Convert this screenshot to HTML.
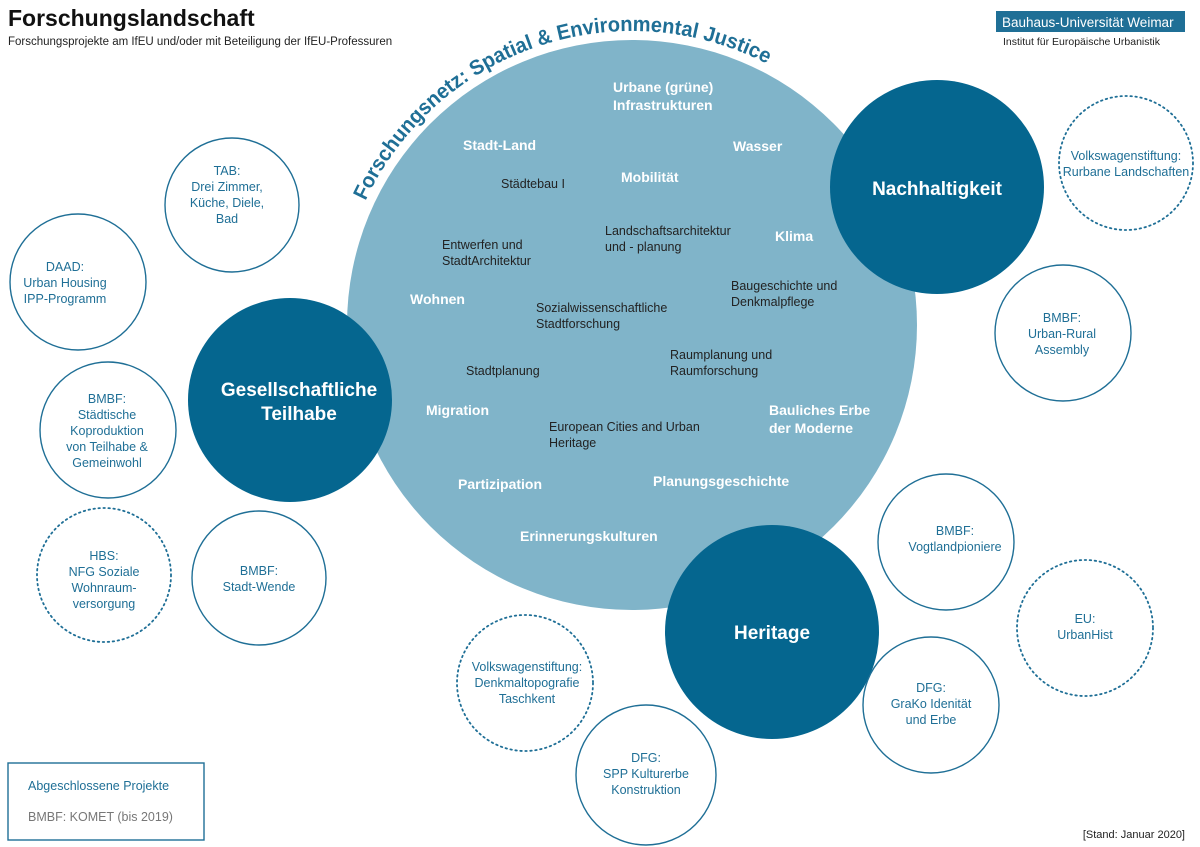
<!DOCTYPE html>
<html><head><meta charset="utf-8"><style>
body{margin:0;background:#fff;}
svg{display:block;font-family:"Liberation Sans",sans-serif;}
.w{fill:#fff;font-weight:bold;font-size:14px;}
.k{fill:#222;font-size:12.5px;}
.o{fill:#fff;stroke:#1f6f96;stroke-width:1.4;}
.d{fill:#fff;stroke:#1f6f96;stroke-width:1.8;stroke-dasharray:1.5 3.5;stroke-linecap:round;}
.b{fill:#1f6f96;font-size:12.5px;text-anchor:middle;}
.big{fill:#fff;font-weight:bold;font-size:19px;text-anchor:middle;}
</style></head><body>
<svg width="1200" height="847" viewBox="0 0 1200 847">
<text x="8" y="26" font-size="23" font-weight="bold" fill="#111">Forschungslandschaft</text>
<text x="8" y="45" font-size="11.5" fill="#222">Forschungsprojekte am IfEU und/oder mit Beteiligung der IfEU-Professuren</text>
<rect x="996" y="11" width="189" height="21" fill="#1f6f96"/>
<text x="1002" y="27" font-size="13.5" fill="#fff">Bauhaus-Universität Weimar</text>
<text x="1003" y="45" font-size="10.5" fill="#222">Institut für Europäische Urbanistik</text>

<circle cx="632" cy="325" r="285" fill="#80b4c9"/>
<defs><path id="arc" d="M 632 325 m -294 0 a 294 294 0 0 1 588 0"/></defs>
<text font-size="21" font-weight="bold" fill="#1f6f96"><textPath href="#arc" startOffset="128" textLength="474" lengthAdjust="spacingAndGlyphs">Forschungsnetz: Spatial &amp; Environmental Justice</textPath></text>

<text class="w" x="613" y="92">Urbane (grüne)</text>
<text class="w" x="613" y="110">Infrastrukturen</text>
<text class="w" x="463" y="150">Stadt-Land</text>
<text class="w" x="733" y="151">Wasser</text>
<text class="w" x="621" y="182">Mobilität</text>
<text class="k" x="501" y="188">Städtebau I</text>
<text class="k" x="605" y="235">Landschaftsarchitektur</text>
<text class="k" x="605" y="251">und - planung</text>
<text class="w" x="775" y="241">Klima</text>
<text class="k" x="442" y="249">Entwerfen und</text>
<text class="k" x="442" y="265">StadtArchitektur</text>
<text class="k" x="731" y="290">Baugeschichte und</text>
<text class="k" x="731" y="306">Denkmalpflege</text>
<text class="w" x="410" y="304">Wohnen</text>
<text class="k" x="536" y="312">Sozialwissenschaftliche</text>
<text class="k" x="536" y="328">Stadtforschung</text>
<text class="k" x="670" y="359">Raumplanung und</text>
<text class="k" x="670" y="375">Raumforschung</text>
<text class="k" x="466" y="375">Stadtplanung</text>
<text class="w" x="426" y="415">Migration</text>
<text class="w" x="769" y="415">Bauliches Erbe</text>
<text class="w" x="769" y="433">der Moderne</text>
<text class="k" x="549" y="431">European Cities and Urban</text>
<text class="k" x="549" y="447">Heritage</text>
<text class="w" x="458" y="489">Partizipation</text>
<text class="w" x="653" y="486">Planungsgeschichte</text>
<text class="w" x="520" y="541">Erinnerungskulturen</text>

<circle cx="937" cy="187" r="107" fill="#05668f"/>
<text class="big" x="937" y="195">Nachhaltigkeit</text>
<circle cx="290" cy="400" r="102" fill="#05668f"/>
<text class="big" x="299" y="396">Gesellschaftliche</text>
<text class="big" x="299" y="420">Teilhabe</text>
<circle cx="772" cy="632" r="107" fill="#05668f"/>
<text class="big" x="772" y="639">Heritage</text>

<circle class="o" cx="232" cy="205" r="67"/>
<text class="b"><tspan x="227" y="175">TAB:</tspan><tspan x="227" y="219" dy="-28">Drei Zimmer,</tspan><tspan x="227" dy="16">Küche, Diele,</tspan><tspan x="227" dy="16">Bad</tspan></text>
<circle class="o" cx="78" cy="282" r="68"/>
<text class="b"><tspan x="65" y="271">DAAD:</tspan><tspan x="65" dy="16">Urban Housing</tspan><tspan x="65" dy="16">IPP-Programm</tspan></text>
<circle class="o" cx="108" cy="430" r="68"/>
<text class="b"><tspan x="107" y="403">BMBF:</tspan><tspan x="107" dy="16">Städtische</tspan><tspan x="107" dy="16">Koproduktion</tspan><tspan x="107" dy="16">von Teilhabe &amp;</tspan><tspan x="107" dy="16">Gemeinwohl</tspan></text>
<circle class="d" cx="104" cy="575" r="67"/>
<text class="b"><tspan x="104" y="560">HBS:</tspan><tspan x="104" dy="16">NFG Soziale</tspan><tspan x="104" dy="16">Wohnraum-</tspan><tspan x="104" dy="16">versorgung</tspan></text>
<circle class="o" cx="259" cy="578" r="67"/>
<text class="b"><tspan x="259" y="575">BMBF:</tspan><tspan x="259" dy="16">Stadt-Wende</tspan></text>
<circle class="d" cx="525" cy="683" r="68"/>
<text class="b"><tspan x="527" y="671">Volkswagenstiftung:</tspan><tspan x="527" dy="16">Denkmaltopografie</tspan><tspan x="527" dy="16">Taschkent</tspan></text>
<circle class="o" cx="646" cy="775" r="70"/>
<text class="b"><tspan x="646" y="762">DFG:</tspan><tspan x="646" dy="16">SPP Kulturerbe</tspan><tspan x="646" dy="16">Konstruktion</tspan></text>
<circle class="o" cx="946" cy="542" r="68"/>
<text class="b"><tspan x="955" y="535">BMBF:</tspan><tspan x="955" dy="16">Vogtlandpioniere</tspan></text>
<circle class="d" cx="1085" cy="628" r="68"/>
<text class="b"><tspan x="1085" y="623">EU:</tspan><tspan x="1085" dy="16">UrbanHist</tspan></text>
<circle class="o" cx="931" cy="705" r="68"/>
<text class="b"><tspan x="931" y="692">DFG:</tspan><tspan x="931" dy="16">GraKo Idenität</tspan><tspan x="931" dy="16">und Erbe</tspan></text>
<circle class="o" cx="1063" cy="333" r="68"/>
<text class="b"><tspan x="1062" y="322">BMBF:</tspan><tspan x="1062" dy="16">Urban-Rural</tspan><tspan x="1062" dy="16">Assembly</tspan></text>
<circle class="d" cx="1126" cy="163" r="67"/>
<text class="b"><tspan x="1126" y="160">Volkswagenstiftung:</tspan><tspan x="1126" dy="16">Rurbane Landschaften</tspan></text>

<rect x="8" y="763" width="196" height="77" fill="none" stroke="#1f6f96" stroke-width="1.4"/>
<text x="28" y="790" font-size="12.5" fill="#1f6f96">Abgeschlossene Projekte</text>
<text x="28" y="821" font-size="12.5" fill="#777">BMBF: KOMET (bis 2019)</text>
<text x="1185" y="838" font-size="11" fill="#222" text-anchor="end">[Stand: Januar 2020]</text>
</svg>
</body></html>
